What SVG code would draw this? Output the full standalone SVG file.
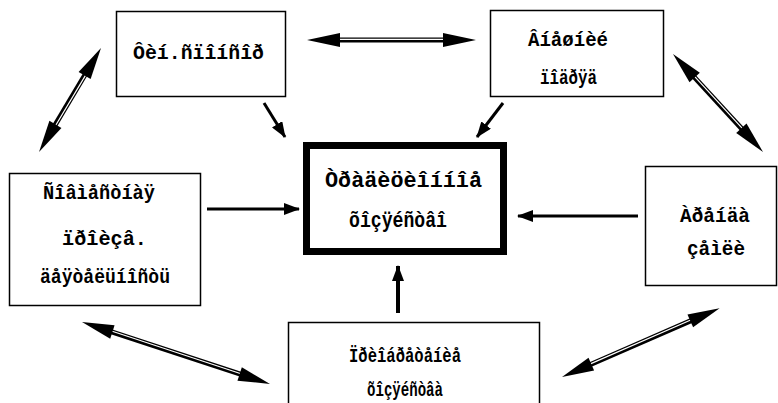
<svg xmlns="http://www.w3.org/2000/svg" width="778" height="403" viewBox="0 0 778 403">
<style>
.box{fill:#fff;stroke:#000;stroke-width:1.5}
.main{fill:#fff;stroke:#000;stroke-width:7}
.t{font-family:"Liberation Mono","Courier New",monospace;font-weight:bold;font-size:21px;fill:#000;text-anchor:middle}
.tm{font-size:22px}
.sh{stroke:#000;stroke-width:5;fill:none}
.shw{stroke:#fff;stroke-width:1.2;fill:none}
.hd{fill:#000}
.ar{stroke:#000;stroke-width:3;fill:none;marker-end:url(#ah)}
</style>
<defs>
<marker id="ah" markerUnits="userSpaceOnUse" markerWidth="16" markerHeight="12" refX="15" refY="6" orient="auto">
<path d="M0,0 L16,6 L0,12 z" fill="#000"/>
</marker>
</defs>
<rect width="778" height="403" fill="#fff"/>
<g id="n-sponsor"><rect class="box" x="116.5" y="11.5" width="169" height="85"/>
<text class="t" x="198.5" y="59" textLength="131" lengthAdjust="spacingAndGlyphs">Ôèí.ñïîíñîð</text></g>
<g id="n-podryad"><rect class="box" x="490.5" y="10.5" width="173" height="86"/>
<text class="t" x="568" y="46" textLength="80" lengthAdjust="spacingAndGlyphs">Âíåøíèé</text>
<text class="t" x="568.5" y="84" textLength="57" lengthAdjust="spacingAndGlyphs">ïîäðÿä</text></g>
<g id="n-main"><rect class="main" x="306.5" y="145.5" width="197" height="106"/>
<text class="t tm" x="403.5" y="187" textLength="157" lengthAdjust="spacingAndGlyphs">Òðàäèöèîííîå</text>
<text class="t tm" x="398" y="227" textLength="98" lengthAdjust="spacingAndGlyphs">õîçÿéñòâî</text></g>
<g id="n-joint"><rect class="box" x="9.5" y="173.5" width="191" height="132"/>
<text class="t" x="99" y="199" textLength="112" lengthAdjust="spacingAndGlyphs">Ñîâìåñòíàÿ</text>
<text class="t" x="104.5" y="245" textLength="85" lengthAdjust="spacingAndGlyphs">ïðîèçâ.</text>
<text class="t" x="105" y="283" textLength="130" lengthAdjust="spacingAndGlyphs">äåÿòåëüíîñòü</text></g>
<g id="n-rent"><rect class="box" x="645.5" y="166.5" width="131" height="119"/>
<text class="t" x="715" y="222" textLength="70" lengthAdjust="spacingAndGlyphs">Àðåíäà</text>
<text class="t" x="716" y="255" textLength="58" lengthAdjust="spacingAndGlyphs">çåìëè</text></g>
<g id="n-buy"><rect class="box" x="288.5" y="322.5" width="251" height="90"/>
<text class="t" x="405" y="362" textLength="112" lengthAdjust="spacingAndGlyphs">Ïðèîáðåòåíèå</text>
<text class="t" x="405" y="396" textLength="76" lengthAdjust="spacingAndGlyphs">õîçÿéñòâà</text></g>
<g id="connectors">
<g transform="translate(307,40)"><line class="sh" x1="28" y1="0" x2="141" y2="0"/><line class="shw" x1="30" y1="-0.7" x2="139" y2="-0.7"/><polygon class="hd" points="0,0 33,-7 33,7"/><polygon class="hd" points="169,0 136,-7 136,7"/></g>
<g transform="translate(101,48) rotate(120.8)"><line class="sh" x1="28" y1="0" x2="93" y2="0"/><line class="shw" x1="30" y1="-0.7" x2="91" y2="-0.7"/><polygon class="hd" points="0,0 32,-7 32,7"/><polygon class="hd" points="121,0 89,-7 89,7"/></g>
<g transform="translate(673,54) rotate(47.4)"><line class="sh" x1="28" y1="0" x2="105" y2="0"/><line class="shw" x1="30" y1="-0.7" x2="103" y2="-0.7"/><polygon class="hd" points="0,0 32,-7 32,7"/><polygon class="hd" points="133,0 101,-7 101,7"/></g>
<g transform="translate(82,322) rotate(18.25)"><line class="sh" x1="28" y1="0" x2="170" y2="0"/><line class="shw" x1="30" y1="-0.7" x2="168" y2="-0.7"/><polygon class="hd" points="0,0 32,-7 32,7"/><polygon class="hd" points="198,0 166,-7 166,7"/></g>
<g transform="translate(562,377) rotate(-23.6)"><line class="sh" x1="28" y1="0" x2="144" y2="0"/><line class="shw" x1="30" y1="-0.7" x2="142" y2="-0.7"/><polygon class="hd" points="0,0 32,-7 32,7"/><polygon class="hd" points="172,0 140,-7 140,7"/></g>
<line class="ar" x1="264" y1="103" x2="285" y2="137"/>
<line class="ar" x1="503" y1="103" x2="477" y2="137"/>
<line class="ar" x1="207" y1="209" x2="299" y2="209"/>
<line class="ar" x1="638" y1="216" x2="518" y2="216"/>
<line class="ar" x1="398" y1="313" x2="398" y2="266" style="stroke-width:4"/>
</g>
</svg>
